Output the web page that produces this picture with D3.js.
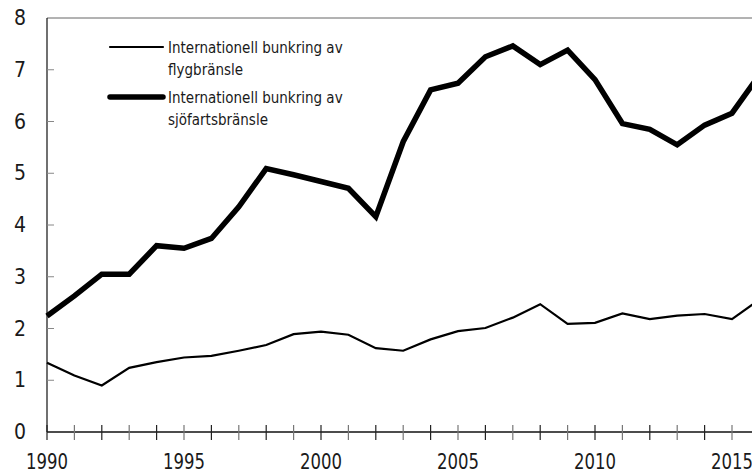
<!DOCTYPE html>
<html>
<head>
<meta charset="utf-8">
<script src="https://cdn.jsdelivr.net/npm/d3@7"></script>
<style>
  html, body { margin: 0; padding: 0; background: #fff; }
  svg { display: block; }
  text { font-family: "Liberation Sans Narrow", "DejaVu Sans Condensed", "Roboto", sans-serif; fill: #1a1a1a; }
</style>
</head>
<body>
<div id="chart"></div>
<script>
// Years on the x axis.
const years = d3.range(1990, 2017)

// Internationell bunkring av flygbränsle.
const flyg = [1.34, 1.09, 0.90, 1.24, 1.35, 1.44, 1.47, 1.57, 1.68, 1.89, 1.94, 1.88, 1.62,
  1.57, 1.79, 1.95, 2.01, 2.21, 2.47, 2.09, 2.11, 2.29, 2.18, 2.25, 2.28, 2.18, 2.56]

// Internationell bunkring av sjöfartsbränsle.
const sjofart = [2.24, 2.63, 3.05, 3.05, 3.60, 3.55, 3.74, 4.35, 5.09, 4.97, 4.84, 4.71, 4.16,
  5.61, 6.61, 6.74, 7.25, 7.46, 7.10, 7.38, 6.81, 5.96, 5.85, 5.55, 5.93, 6.16, 6.90]

const yTicks = [0, 1, 2, 3, 4, 5, 6, 7, 8]
const xLabels = [1990, 1995, 2000, 2005, 2010, 2015]

const series = [
  { name: ['Internationell bunkring av', 'flygbränsle'], values: flyg, width: 2.2 },
  { name: ['Internationell bunkring av', 'sjöfartsbränsle'], values: sjofart, width: 5.5 }
]

// Frame.
const width = 752, height = 475
const margin = { top: 18, left: 47, bottom: 43 }

const svg = d3.select('#chart')
  .append('svg')
    .attr('width', width)
    .attr('height', height)

const x = d3.scaleLinear()
  .domain([1990, 2016])
  .range([margin.left, margin.left + 26 * 27.4])

const y = d3.scaleLinear()
  .domain([0, 8])
  .range([height - margin.bottom, margin.top])

// Top border.
svg.append('line')
  .attr('x1', margin.left).attr('x2', width)
  .attr('y1', y(8)).attr('y2', y(8))
  .attr('stroke', '#666').attr('stroke-width', 1)

// Y axis: line, ticks, labels.
svg.append('line')
  .attr('x1', margin.left).attr('x2', margin.left)
  .attr('y1', y(8)).attr('y2', y(0))
  .attr('stroke', '#111').attr('stroke-width', 1.2)

svg.selectAll('.ytick')
  .data(yTicks.filter(d => d > 0 && d < 8))
  .enter()
  .append('line')
    .attr('x1', margin.left).attr('x2', margin.left + 7)
    .attr('y1', d => y(d)).attr('y2', d => y(d))
    .attr('stroke', '#888').attr('stroke-width', 1)

svg.selectAll('.ylabel')
  .data(yTicks)
  .enter()
  .append('text')
    .attr('x', 26)
    .attr('y', d => y(d) + 7)
    .attr('text-anchor', 'end')
    .style('font-size', '21px')
    .text(d => d)

// X axis: line, yearly ticks, labels.
svg.append('line')
  .attr('x1', margin.left).attr('x2', width)
  .attr('y1', y(0)).attr('y2', y(0))
  .attr('stroke', '#111').attr('stroke-width', 1.5)

svg.selectAll('.xtick')
  .data(years)
  .enter()
  .append('line')
    .attr('x1', d => x(d)).attr('x2', d => x(d))
    .attr('y1', y(0) - 7).attr('y2', y(0) + 8)
    .attr('stroke', d => d % 2 === 0 ? '#222' : '#777')
    .attr('stroke-width', 1.2)

// Narrow year labels, squeezed to the reference width.
svg.selectAll('.xlabel')
  .data(xLabels)
  .enter()
  .append('text')
    .attr('x', d => x(d) - 21)
    .attr('y', 469)
    .attr('textLength', 42)
    .attr('lengthAdjust', 'spacingAndGlyphs')
    .style('font-size', '22px')
    .text(d => d)

// Lines.
const line = d3.line()
  .x((d, i) => x(years[i]))
  .y(d => y(d))

svg.selectAll('.series')
  .data(series)
  .enter()
  .append('path')
    .attr('d', d => line(d.values))
    .attr('fill', 'none')
    .attr('stroke', '#000')
    .attr('stroke-width', d => d.width)
    .attr('stroke-linejoin', 'miter')

// Legend.
const legend = svg.selectAll('.legend')
  .data(series)
  .enter()
  .append('g')
    .attr('transform', (d, i) => 'translate(110,' + (47 + i * 50) + ')')

legend.append('line')
  .attr('x1', 0).attr('x2', 53)
  .attr('stroke', '#000')
  .attr('stroke-width', d => d.width)
  .attr('stroke-linecap', 'round')

legend.append('text')
  .attr('x', 58)
  .attr('y', 6)
  .style('font-size', '15px')
  .selectAll('tspan')
  .data(d => d.name)
  .enter()
  .append('tspan')
    .attr('x', 58)
    .attr('dy', (d, i) => i === 0 ? 0 : 22)
    .text(d => d)
</script>
</body>
</html>
